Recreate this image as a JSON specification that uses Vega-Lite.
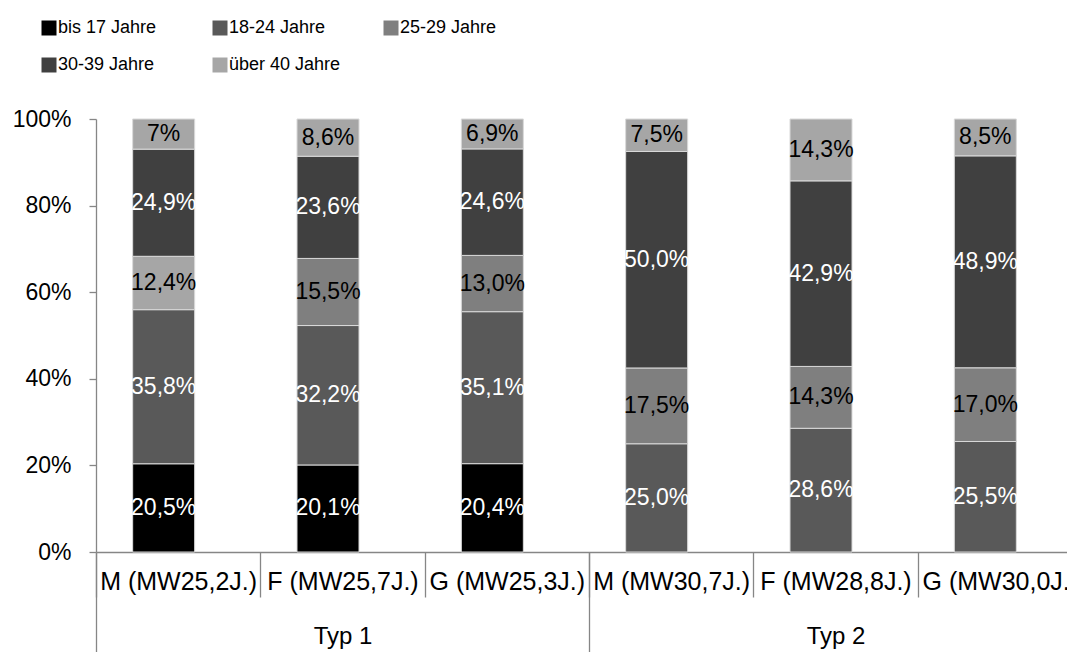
{
  "$schema": "https://vega.github.io/schema/vega-lite/v6.json",
  "width": 971,
  "height": 433,
  "autosize": {"type": "none"},
  "padding": {"left": 96, "top": 119, "right": 0, "bottom": 100},
  "background": "white",
  "config": {"view": {"stroke": null}, "font": "Liberation Sans"},
  "data": {"values": [
    {"cat": "M (MW25,2J.)", "typ": "Typ 1", "age": "bis 17 Jahre", "value": 20.5, "label": "20,5%"},
    {"cat": "M (MW25,2J.)", "typ": "Typ 1", "age": "18-24 Jahre", "value": 35.8, "label": "35,8%"},
    {"cat": "M (MW25,2J.)", "typ": "Typ 1", "age": "25-29 Jahre", "value": 12.4, "label": "12,4%"},
    {"cat": "M (MW25,2J.)", "typ": "Typ 1", "age": "30-39 Jahre", "value": 24.9, "label": "24,9%"},
    {"cat": "M (MW25,2J.)", "typ": "Typ 1", "age": "über 40 Jahre", "value": 7.0, "label": "7%"},
    {"cat": "F (MW25,7J.)", "typ": "Typ 1", "age": "bis 17 Jahre", "value": 20.1, "label": "20,1%"},
    {"cat": "F (MW25,7J.)", "typ": "Typ 1", "age": "18-24 Jahre", "value": 32.2, "label": "32,2%"},
    {"cat": "F (MW25,7J.)", "typ": "Typ 1", "age": "25-29 Jahre", "value": 15.5, "label": "15,5%"},
    {"cat": "F (MW25,7J.)", "typ": "Typ 1", "age": "30-39 Jahre", "value": 23.6, "label": "23,6%"},
    {"cat": "F (MW25,7J.)", "typ": "Typ 1", "age": "über 40 Jahre", "value": 8.6, "label": "8,6%"},
    {"cat": "G (MW25,3J.)", "typ": "Typ 1", "age": "bis 17 Jahre", "value": 20.4, "label": "20,4%"},
    {"cat": "G (MW25,3J.)", "typ": "Typ 1", "age": "18-24 Jahre", "value": 35.1, "label": "35,1%"},
    {"cat": "G (MW25,3J.)", "typ": "Typ 1", "age": "25-29 Jahre", "value": 13.0, "label": "13,0%"},
    {"cat": "G (MW25,3J.)", "typ": "Typ 1", "age": "30-39 Jahre", "value": 24.6, "label": "24,6%"},
    {"cat": "G (MW25,3J.)", "typ": "Typ 1", "age": "über 40 Jahre", "value": 6.9, "label": "6,9%"},
    {"cat": "M (MW30,7J.)", "typ": "Typ 2", "age": "18-24 Jahre", "value": 25.0, "label": "25,0%"},
    {"cat": "M (MW30,7J.)", "typ": "Typ 2", "age": "25-29 Jahre", "value": 17.5, "label": "17,5%"},
    {"cat": "M (MW30,7J.)", "typ": "Typ 2", "age": "30-39 Jahre", "value": 50.0, "label": "50,0%"},
    {"cat": "M (MW30,7J.)", "typ": "Typ 2", "age": "über 40 Jahre", "value": 7.5, "label": "7,5%"},
    {"cat": "F (MW28,8J.)", "typ": "Typ 2", "age": "18-24 Jahre", "value": 28.6, "label": "28,6%"},
    {"cat": "F (MW28,8J.)", "typ": "Typ 2", "age": "25-29 Jahre", "value": 14.3, "label": "14,3%"},
    {"cat": "F (MW28,8J.)", "typ": "Typ 2", "age": "30-39 Jahre", "value": 42.9, "label": "42,9%"},
    {"cat": "F (MW28,8J.)", "typ": "Typ 2", "age": "über 40 Jahre", "value": 14.3, "label": "14,3%"},
    {"cat": "G (MW30,0J.)", "typ": "Typ 2", "age": "18-24 Jahre", "value": 25.5, "label": "25,5%"},
    {"cat": "G (MW30,0J.)", "typ": "Typ 2", "age": "25-29 Jahre", "value": 17.0, "label": "17,0%"},
    {"cat": "G (MW30,0J.)", "typ": "Typ 2", "age": "30-39 Jahre", "value": 48.9, "label": "48,9%"},
    {"cat": "G (MW30,0J.)", "typ": "Typ 2", "age": "über 40 Jahre", "value": 8.5, "label": "8,5%"}
  ]},
  "transform": [
    {"calculate": "indexof(['bis 17 Jahre','18-24 Jahre','25-29 Jahre','30-39 Jahre','über 40 Jahre'], datum.age)", "as": "k"},
    {"stack": "value", "groupby": ["cat"], "sort": [{"field": "k", "order": "ascending"}], "offset": "normalize", "as": ["y0", "y1"]},
    {"calculate": "(datum.y0 + datum.y1) / 2", "as": "ym"}
  ],
  "layer": [
    {
      "mark": {"type": "bar", "width": 62, "xOffset": -14.5, "stroke": "#d9d9d9", "strokeWidth": 1},
      "encoding": {
        "x": {
          "field": "cat", "type": "nominal",
          "scale": {"domain": ["M (MW25,2J.)", "F (MW25,7J.)", "G (MW25,3J.)", "M (MW30,7J.)", "F (MW28,8J.)", "G (MW30,0J.)"], "range": [0, 986], "paddingInner": 0, "paddingOuter": 0},
          "axis": {"title": null, "orient": "bottom", "tickBand": "extent", "tickSize": 45, "tickColor": "#868686", "tickWidth": 1.3, "domainColor": "#868686", "domainWidth": 1.3, "labelPadding": -28, "labelFontSize": 25, "labelColor": "#000000", "labelAngle": 0, "labelBaseline": "top", "labelOverlap": false, "labelBound": false}
        },
        "y": {
          "field": "y0", "type": "quantitative",
          "scale": {"domain": [0, 1]},
          "axis": {"title": null, "format": ".0%", "values": [0, 0.2, 0.4, 0.6, 0.8, 1], "grid": false, "tickSize": 7, "tickColor": "#868686", "tickWidth": 1.3, "domainColor": "#868686", "domainWidth": 1.3, "labelFontSize": 23, "labelPadding": 18, "labelColor": "#000000"}
        },
        "y2": {"field": "y1"},
        "color": {
          "condition": {"test": "datum.cat === 'M (MW25,2J.)' && datum.age === '25-29 Jahre'", "value": "#a6a6a6"},
          "field": "age", "type": "nominal",
          "scale": {"domain": ["bis 17 Jahre", "18-24 Jahre", "25-29 Jahre", "30-39 Jahre", "über 40 Jahre"], "range": ["#000000", "#595959", "#7f7f7f", "#404040", "#a6a6a6"]},
          "legend": {"orient": "none", "legendX": -56, "legendY": -100, "direction": "horizontal", "columns": 3, "title": null, "symbolType": "square", "symbolSize": 225, "symbolStrokeWidth": 0, "labelFontSize": 18, "labelColor": "#000000", "labelOffset": 0, "columnPadding": 41, "rowPadding": 19, "gridAlign": "all", "labelLimit": 300}
        }
      }
    },
    {
      "mark": {"type": "text", "dx": -14.5, "fontSize": 23, "baseline": "middle", "align": "center"},
      "encoding": {
        "x": {
          "field": "cat", "type": "nominal",
          "scale": {"domain": ["M (MW25,2J.)", "F (MW25,7J.)", "G (MW25,3J.)", "M (MW30,7J.)", "F (MW28,8J.)", "G (MW30,0J.)"], "range": [0, 986], "paddingInner": 0, "paddingOuter": 0},
          "axis": null
        },
        "y": {"field": "ym", "type": "quantitative"},
        "text": {"field": "label"},
        "color": {
          "condition": {"test": "datum.age === 'bis 17 Jahre' || datum.age === '18-24 Jahre' || datum.age === '30-39 Jahre'", "value": "#ffffff"},
          "value": "#000000"
        }
      }
    },
    {
      "mark": {"type": "bar", "opacity": 0},
      "encoding": {
        "x": {
          "field": "typ", "type": "nominal",
          "scale": {"domain": ["Typ 1", "Typ 2"], "range": [0, 986], "paddingInner": 0, "paddingOuter": 0},
          "axis": {"title": null, "orient": "bottom", "domain": false, "tickBand": "extent", "tickSize": 110, "tickColor": "#868686", "tickWidth": 1.3, "labelPadding": -38, "labelFontSize": 24, "labelColor": "#000000", "labelAngle": 0, "labelBaseline": "top"}
        }
      }
    }
  ],
  "resolve": {"scale": {"x": "independent"}, "axis": {"x": "independent"}}
}
